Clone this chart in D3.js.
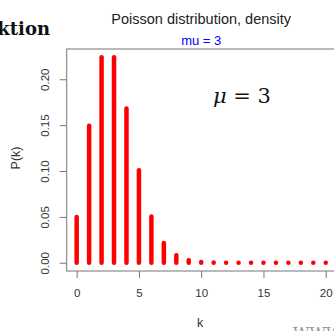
<!DOCTYPE html>
<html>
<head>
  <meta charset="utf-8">
  <title>Poisson distribution, density</title>
  <script src="https://cdn.jsdelivr.net/npm/d3@7/dist/d3.min.js"></script>
  <style>
    body { margin: 0; background: #fff; }
    svg { font-family: Arial, "Liberation Sans", sans-serif; }
  </style>
</head>
<body>
  <script>
    const width = 334, height = 331
    // k = 0..20, P(k) (mu = 3)
    const ks = [0, 1, 2, 3, 4, 5, 6, 7, 8, 9, 10, 11, 12, 13, 14, 15, 16, 17, 18, 19, 20]
    const probs = [0.0498, 0.1494, 0.2240, 0.2240, 0.1680, 0.1008, 0.0504, 0.0216, 0.0081, 0.0027,
      0.0008, 0.0002, 0.0001, 0, 0, 0, 0, 0, 0, 0, 0]
    const xTicks = [0, 5, 10, 15, 20]
    const yTicks = [0, 0.05, 0.10, 0.15, 0.20]

    const box = { left: 66.7, right: 335.7, top: 49, bottom: 271 }
    const sans = 'Arial, "Liberation Sans", sans-serif'
    const serif = '"DejaVu Serif", "Liberation Serif", serif'

    const svg = d3.select('body')
      .append('svg')
      .attr('width', width)
      .attr('height', height)

    // R style 4% padding on both axes
    const xScale = d3.scaleLinear()
      .domain([-0.8, 20.8])
      .range([box.left, box.right])
    const yMax = d3.max(probs)
    const yScale = d3.scaleLinear()
      .domain([-0.04 * yMax, 1.04 * yMax])
      .range([box.bottom, box.top])

    // plot box
    svg.append('rect')
      .attr('x', box.left)
      .attr('y', box.top)
      .attr('width', box.right - box.left)
      .attr('height', box.bottom - box.top)
      .attr('fill', 'none')
      .attr('stroke', '#777')
      .attr('stroke-width', 1)

    // spikes
    svg.selectAll('line.spike')
      .data(probs)
      .enter()
      .append('line')
      .attr('class', 'spike')
      .attr('x1', (d, i) => xScale(ks[i]))
      .attr('x2', (d, i) => xScale(ks[i]))
      .attr('y1', yScale(0))
      .attr('y2', d => yScale(d))
      .attr('stroke', '#ff0000')
      .attr('stroke-width', 4.5)
      .attr('stroke-linecap', 'round')

    // x axis
    const xAxis = d3.axisBottom(xScale)
      .tickValues(xTicks)
      .tickFormat(d3.format('d'))
      .tickSize(7)
      .tickPadding(11)
    const gx = svg.append('g')
      .attr('transform', `translate(0,${box.bottom})`)
      .call(xAxis)
    gx.select('.domain').remove()
    gx.selectAll('line').attr('stroke', '#777')
    gx.selectAll('text')
      .attr('fill', '#333')
      .style('font-size', '11.5px')
      .style('font-family', sans)

    // y axis with rotated labels
    const yAxis = d3.axisLeft(yScale)
      .tickValues(yTicks)
      .tickFormat(d3.format('.2f'))
      .tickSize(7)
    const gy = svg.append('g')
      .attr('transform', `translate(${box.left},0)`)
      .call(yAxis)
    gy.select('.domain').remove()
    gy.selectAll('line').attr('stroke', '#777')
    gy.selectAll('text')
      .attr('x', 0)
      .attr('dy', 0)
      .attr('transform', 'translate(-18,0) rotate(-90)')
      .attr('text-anchor', 'middle')
      .attr('fill', '#333')
      .style('font-size', '11.5px')
      .style('font-family', sans)

    // titles
    const cx = (box.left + box.right) / 2
    svg.append('text')
      .attr('x', cx)
      .attr('y', 24)
      .attr('text-anchor', 'middle')
      .attr('fill', '#222')
      .style('font-size', '14.5px')
      .text('Poisson distribution, density')
    svg.append('text')
      .attr('x', cx)
      .attr('y', 45)
      .attr('text-anchor', 'middle')
      .attr('fill', '#0000ff')
      .style('font-size', '13px')
      .text('mu = 3')

    svg.append('text')
      .attr('x', 200)
      .attr('y', 327)
      .attr('text-anchor', 'middle')
      .attr('fill', '#333')
      .style('font-size', '12.5px')
      .text('k')
    svg.append('text')
      .attr('transform', 'translate(20,158) rotate(-90)')
      .attr('text-anchor', 'middle')
      .attr('fill', '#333')
      .style('font-size', '12.5px')
      .text('P(k)')

    // annotation
    const ann = svg.append('text')
      .attr('x', 213)
      .attr('y', 103)
      .attr('fill', '#111')
      .style('font-size', '21px')
      .style('font-family', serif)
    ann.append('tspan').attr('font-style', 'italic').text('μ')
    ann.append('tspan').text(' = 3')

    // page heading fragment and watermark (cropped in the reference too)
    svg.append('text')
      .attr('x', 50)
      .attr('y', 35)
      .attr('text-anchor', 'end')
      .attr('fill', '#111')
      .attr('font-weight', 'bold')
      .style('font-size', '18px')
      .style('font-family', serif)
      .text('Dichtefunktion')
    svg.append('text')
      .attr('x', 293)
      .attr('y', 339)
      .attr('fill', '#999')
      .style('font-size', '16px')
      .style('font-family', serif)
      .text('WWW')
  </script>
</body>
</html>
